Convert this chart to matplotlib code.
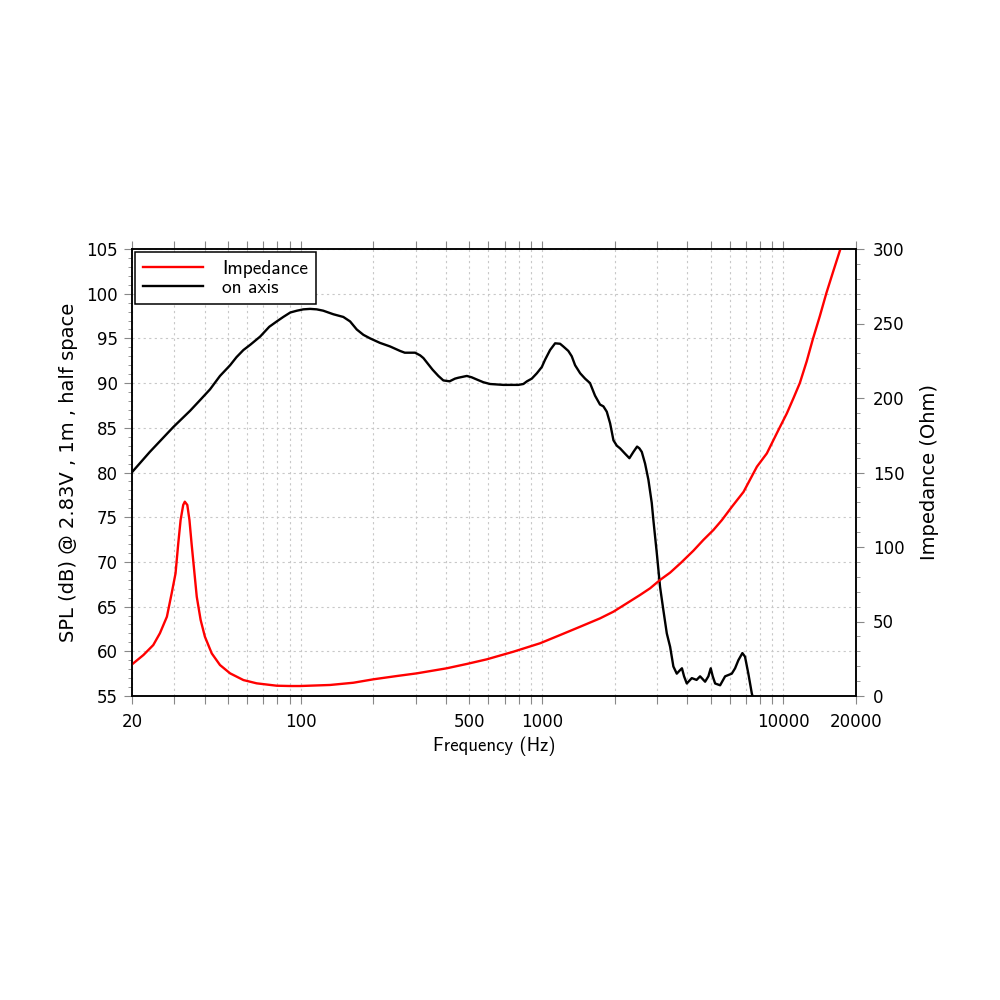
import matplotlib
matplotlib.use("Agg")
import matplotlib.pyplot as plt
from matplotlib.ticker import FixedLocator, MultipleLocator, NullFormatter, FixedFormatter

# on-axis SPL (dB @ 2.83V, 1m, half space)
spl_freq = [20.1, 23.7, 29.7, 34.8, 38.3, 42.1, 46.3, 51.0, 54.2, 57.9, 61.9, 67.9,
            74.1, 79.6, 84.7, 90.6, 96.5, 102.6, 109.4, 116.5, 124, 136.6, 150.2,
            160.2, 170.7, 181.9, 194, 213, 234.6, 258, 270, 297.8, 312.7, 322.5, 338,
            352, 372, 390, 414, 436, 450, 488, 511, 537, 571, 609, 691.6, 798, 837,
            866, 907, 952, 998, 1029, 1080, 1133, 1188, 1225, 1285, 1328, 1371, 1439,
            1508, 1581, 1658, 1739, 1796, 1855, 1915, 1977, 2041, 2106, 2209, 2302,
            2391, 2477, 2532, 2591, 2673, 2759, 2849, 2893, 2989, 3084, 3183, 3289,
            3395, 3502, 3617, 3734, 3800, 3878, 3980, 4175, 4370, 4518, 4740, 4890,
            5001, 5098, 5216, 5470, 5737, 6114, 6309, 6510, 6765, 6936, 7161, 7400,
            7514]
spl_db = [80.1, 82.3, 85.1, 86.9, 88.1, 89.3, 90.8, 92.0, 92.9, 93.7, 94.3, 95.2,
          96.3, 96.9, 97.4, 97.9, 98.1, 98.25, 98.3, 98.25, 98.1, 97.7, 97.4,
          96.9, 96.0, 95.4, 95.0, 94.5, 94.1, 93.6, 93.4, 93.4, 93.1, 92.8, 92.1,
          91.5, 90.8, 90.3, 90.2, 90.5, 90.6, 90.8, 90.65, 90.4, 90.1, 89.9, 89.8, 89.8, 89.9,
          90.2, 90.5, 91.1, 91.8, 92.6, 93.7, 94.45, 94.4, 94.1, 93.6, 93.0, 92.0, 91.1,
          90.5, 90.0, 88.6, 87.6, 87.4, 86.8, 85.5, 83.6, 83.0, 82.7, 82.1, 81.6,
          82.3, 82.9, 82.7, 82.3, 81.0, 79.2, 76.6, 74.7, 71.0, 67.2, 64.6, 62.0,
          60.5, 58.3, 57.5, 57.9, 58.1, 57.2, 56.4, 57.0, 56.8, 57.2, 56.6, 57.2,
          58.1, 57.2, 56.4, 56.2, 57.2, 57.5, 58.1, 59.0, 59.8, 59.4, 57.5, 55.3,
          54.6]

# impedance (Ohm)
imp_freq = [20.1, 22.3, 24.5, 26.1, 27.9, 29.2, 30.3, 31.1, 31.8, 32.6, 33.1, 33.9,
            34.6, 35.3, 36.3, 37.1, 38.5, 40.1, 42.8, 46.3, 51.0, 57.9, 65.7, 79.6,
            90.6, 99.4, 132.3, 165.3, 200, 250, 302.7, 403, 487.6, 590, 760, 982,
            1188, 1439, 1739, 1977, 2245, 2548, 2805, 3084, 3395, 3770, 4238, 4660,
            5130, 5566, 6120, 6840, 7770, 8540, 9540, 10340, 11020, 11700, 12500,
            13240, 14160, 15070, 16080, 17180, 18000]
imp_ohm = [21.5, 27.5, 34.2, 42.1, 53.2, 68.9, 82.3, 102.5, 118.1, 128.2, 130.4, 128.2,
           118.1, 102.5, 82.3, 66.6, 51.0, 39.8, 28.6, 20.8, 15.2, 10.7, 8.5, 6.9,
           6.7, 6.7, 7.4, 8.9, 11.2, 13.4, 15.2, 18.6, 21.5, 24.6, 29.7, 35.4,
           40.9, 46.5, 52.1, 56.6, 62.2, 67.8, 72.3, 77.9, 82.8, 89.5, 97.5, 104.7,
           111.4, 118.1, 127.0, 137.0, 153.9, 162.8, 178.5, 189.7, 200.0, 210.0, 224.7,
           239.3, 254.9, 270.3, 284.8, 299.3, 312]

x_ticks = [m * 10 ** e for e in (1, 2, 3, 4) for m in range(1, 10)]
x_ticks = [t for t in x_ticks if 20 <= t <= 20000]
x_labels = {20: "20", 100: "100", 500: "500", 1000: "1000", 10000: "10000", 20000: "20000"}

fig = plt.figure(figsize=(10, 10), dpi=100)
ax = fig.add_axes([0.132, 0.304, 0.724, 0.447])
ax2 = ax.twinx()

ax.semilogx(spl_freq, spl_db, color="black", lw=1.7, label="on axis")
ax2.semilogx(imp_freq, imp_ohm, color="#ff0000", lw=1.7, label="Impedance")

ax.set_xlim(20, 20000)
ax.set_ylim(55, 105)
ax2.set_ylim(0, 300)

ax.xaxis.set_major_locator(FixedLocator(x_ticks))
ax.xaxis.set_major_formatter(FixedFormatter([x_labels.get(t, "") for t in x_ticks]))
ax.xaxis.set_minor_formatter(NullFormatter())
ax.xaxis.set_minor_locator(FixedLocator([]))
ax.yaxis.set_major_locator(MultipleLocator(5))
ax.yaxis.set_minor_locator(MultipleLocator(1))
ax2.yaxis.set_major_locator(MultipleLocator(50))
ax2.yaxis.set_minor_locator(MultipleLocator(10))

ax.tick_params(axis="x", which="major", direction="out", length=6, width=0.8,
               color="#888888", top=True, labelsize=12, pad=6)
ax.tick_params(axis="y", which="major", direction="out", length=6, width=0.8,
               color="#888888", labelsize=12, pad=4)
ax.tick_params(axis="y", which="minor", direction="out", length=3, width=0.6, color="#888888")
ax2.tick_params(axis="y", which="major", direction="out", length=6, width=0.8,
                color="#888888", labelsize=12, pad=6)
ax2.tick_params(axis="y", which="minor", direction="out", length=3, width=0.6, color="#888888")

ax.grid(True, which="major", axis="both", color="#c8c8c8", linestyle=(0, (2, 3)), lw=0.8)

for a in (ax, ax2):
    for s in a.spines.values():
        s.set_linewidth(1.1)
        s.set_color("black")

ax.set_xlabel("Frequency (Hz)", family="cmss10", fontsize=13.5, labelpad=4)
ax.set_ylabel("SPL (dB) @ 2.83V , 1m , half space", fontsize=14, labelpad=6)
ax2.set_ylabel("Impedance (Ohm)", fontsize=14, labelpad=11)

h1, l1 = ax2.get_legend_handles_labels()
h2, l2 = ax.get_legend_handles_labels()
leg = ax2.legend(h1 + h2, l1 + l2, loc="upper left", fancybox=False,
                 edgecolor="black", framealpha=1, borderaxespad=0.15,
                 handlelength=3.1, handletextpad=1.0, borderpad=0.4, labelspacing=0.05,
                 prop={"family": "cmss10", "size": 14})
leg.get_frame().set_linewidth(1.1)

fig.savefig("out.png", dpi=100)
